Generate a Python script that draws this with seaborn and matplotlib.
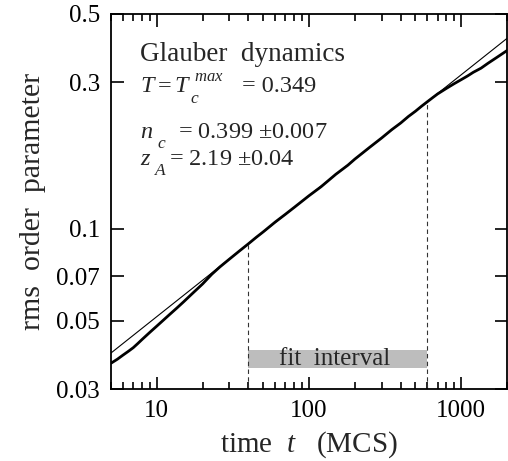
import numpy as np
import pandas as pd
import seaborn as sns
import matplotlib
matplotlib.use("Agg")
import matplotlib.pyplot as plt
from matplotlib.ticker import LogLocator, FixedLocator, NullFormatter, FixedFormatter

# ---- data ----
t_data = [5, 5.5, 6, 6.5, 7, 7.5, 8, 9, 10, 11, 12, 13.5, 15, 17, 20, 23, 26, 30, 35, 40,
          45, 50, 60, 70, 80, 100, 120, 150, 180, 200, 250, 300, 350, 400, 450, 500,
          550, 600, 650, 700, 800, 900, 1000, 1100, 1200, 1350, 1500, 1700, 2000]
m_data = [0.0364, 0.0375, 0.0387, 0.0398, 0.0409, 0.0422, 0.0435, 0.0459, 0.0481, 0.0502,
          0.0522, 0.0550, 0.0577, 0.0612, 0.0660, 0.0710, 0.0750, 0.0795, 0.0846, 0.0892,
          0.0936, 0.0975, 0.1050, 0.1113, 0.1172, 0.1279, 0.1368, 0.1502, 0.1608, 0.1683,
          0.1838, 0.1972, 0.2100, 0.2206, 0.2318, 0.2410, 0.2505, 0.2590, 0.2670, 0.2745,
          0.2862, 0.2965, 0.3055, 0.3140, 0.3228, 0.3330, 0.3455, 0.3600, 0.3800]
fit_t = [5, 2000]
fit_m = [0.0393, 0.4164]
interval = [40, 600]
interval_m = [0.0892, 0.2590]
box_m = [0.0351, 0.0402]
y_ticks = [0.03, 0.05, 0.07, 0.1, 0.3, 0.5]
y_labels = ["0.03", "0.05", "0.07", "0.1", "0.3", "0.5"]
x_ticks = [10, 100, 1000]
x_labels = ["10", "100", "1000"]

sns.set_theme(style="ticks")
plt.rcParams["font.family"] = ["Liberation Serif", "DejaVu Serif"]
plt.rcParams["mathtext.fontset"] = "custom"
plt.rcParams["mathtext.rm"] = "Liberation Serif"
plt.rcParams["mathtext.it"] = "Liberation Serif:italic"
plt.rcParams["mathtext.bf"] = "Liberation Serif:bold"

W, H = 508, 461
fig = plt.figure(figsize=(W / 100, H / 100), dpi=100)
ax = fig.add_axes([111 / W, 1 - 389 / H, 396 / W, 375 / H])

df = pd.DataFrame({"t": t_data, "m": m_data})
dfit = pd.DataFrame({"t": fit_t, "m": fit_m})
sns.lineplot(data=dfit, x="t", y="m", ax=ax, color="black", lw=0.8)
sns.lineplot(data=df, x="t", y="m", ax=ax, color="black", lw=2.0)

ax.set_xscale("log")
ax.set_yscale("log")
ax.set_xlim(5, 2000)
ax.set_ylim(0.03, 0.5)

# dashed interval markers
for xi, yi in zip(interval, interval_m):
    ax.plot([xi, xi], [0.03, yi], color="#333333", lw=0.8, ls=(0, (4, 3)))

# fit interval box
ax.fill_between(interval, [box_m[0]] * 2, [box_m[1]] * 2, color="#bdbdbd",
                lw=0, zorder=1)
ax.text(np.sqrt(interval[0] * interval[1]) * 0.955, np.sqrt(box_m[0] * box_m[1]),
        "fit  interval", ha="center", va="center", fontsize=18, zorder=3)

# ticks
ax.yaxis.set_major_locator(FixedLocator(y_ticks))
ax.yaxis.set_major_formatter(FixedFormatter(y_labels))
ax.yaxis.set_minor_locator(FixedLocator([]))
ax.xaxis.set_major_locator(FixedLocator(x_ticks))
ax.xaxis.set_major_formatter(FixedFormatter(x_labels))
ax.xaxis.set_minor_locator(LogLocator(base=10, subs=np.arange(2, 10)))
ax.xaxis.set_minor_formatter(NullFormatter())
ax.tick_params(which="both", direction="in", top=True, right=True, width=1.2,
               labelsize=18, colors="black")
ax.tick_params(which="major", length=9, pad=8)
ax.tick_params(which="minor", length=5)
for s in ax.spines.values():
    s.set_linewidth(1.3)
    s.set_color("black")

ax.set_xlabel("time  $t$   (MCS)", fontsize=21, labelpad=5)
ax.set_ylabel("rms  order  parameter", fontsize=21.5, labelpad=7)


def put(x, y, s, size=17.5):
    fig.text(x / W, 1 - y / H, s, fontsize=size, va="baseline", ha="left")


put(140, 61, "Glauber  dynamics", 19.5)
put(140, 92, r"$T$")
put(158, 92, "=")
put(174, 92, r"$T$")
put(190, 103, r"$c$", 12.5)
put(194, 81, r"$max$", 12)
put(242, 92, "= 0.349")
put(140, 138, r"$n$")
put(157, 148, r"$c$", 12.5)
put(178, 138, r"= 0.399 $\pm$0.007")
put(140, 165, r"$z$")
put(154, 175, r"$A$", 12.5)
put(169, 165, r"= 2.19 $\pm$0.04")

fig.savefig("out.png", dpi=100)
